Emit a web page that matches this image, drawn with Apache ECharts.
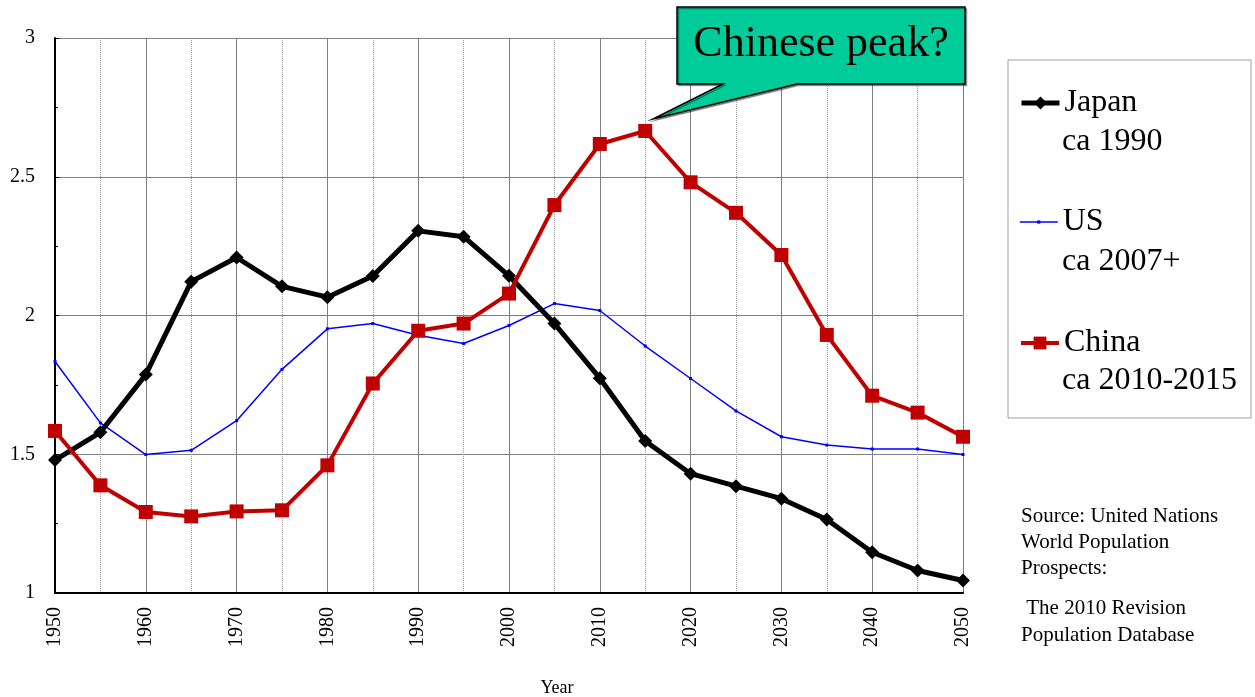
<!DOCTYPE html>
<html>
<head>
<meta charset="utf-8">
<script src="https://cdn.jsdelivr.net/npm/echarts@6/dist/echarts.min.js"></script>
<style>
html,body{margin:0;padding:0;background:#fff;}
#chart{width:1255px;height:697px;}
</style>
</head>
<body>
<div id="chart"></div>
<script>
const years = [1950,1955,1960,1965,1970,1975,1980,1985,1990,1995,2000,2005,2010,2015,2020,2025,2030,2035,2040,2045,2050];
const japan = [1.479,1.579,1.787,2.122,2.209,2.105,2.066,2.142,2.305,2.284,2.143,1.971,1.774,1.548,1.430,1.385,1.340,1.265,1.147,1.081,1.045];
const us    = [1.834,1.613,1.499,1.514,1.621,1.806,1.952,1.971,1.929,1.899,1.964,2.043,2.018,1.890,1.773,1.656,1.563,1.533,1.519,1.519,1.499];
const china = [1.584,1.388,1.292,1.276,1.294,1.298,1.460,1.755,1.945,1.971,2.079,2.398,2.618,2.665,2.480,2.370,2.218,1.930,1.711,1.650,1.563];
const seriesNames = ['Japan','US','China'];
const legendSubtitles = ['ca 1990','ca 2007+','ca 2010-2015'];
const calloutText = 'Chinese peak?';
const sourceLines1 = 'Source: United Nations\nWorld Population\nProspects:';
const sourceLines2 = ' The 2010 Revision\nPopulation Database';

const serif = '"Liberation Serif","DejaVu Serif",serif';
const pair = arr => years.map((y,i)=>[y,arr[i]]);

const chart = echarts.init(document.getElementById('chart'));
const legendBase = {
  orient:'vertical', left:1019, padding:0, itemWidth:38, itemGap:0,
  textStyle:{fontFamily:serif,fontSize:32,color:'#000',lineHeight:38}
};
chart.setOption({
  animation:false,
  backgroundColor:'#fff',
  grid:{left:55,right:292,top:38,bottom:104,show:false,containLabel:false,outerBoundsMode:'none'},
  xAxis:{
    type:'value',min:1950,max:2050,interval:10,
    name:'Year',nameLocation:'middle',nameGap:86,
    nameTextStyle:{fontFamily:serif,fontSize:18,color:'#000',padding:[0,0,0,96]},
    axisLine:{lineStyle:{color:'#000',width:2}},
    axisTick:{show:false},
    axisLabel:{rotate:90,margin:14,fontFamily:serif,fontSize:20,color:'#000',formatter:v=>String(v)},
    splitLine:{show:true,lineStyle:{color:'#808080',width:1}},
    minorTick:{show:false,splitNumber:2},
    minorSplitLine:{show:true,lineStyle:{color:'#9a9a9a',width:1,type:[1,1]}}
  },
  yAxis:{
    type:'value',min:1,max:3,interval:0.5,
    axisLine:{show:true,lineStyle:{color:'#000',width:2}},
    axisTick:{show:true,inside:true,length:4,lineStyle:{color:'#000'}},
    minorTick:{show:true,splitNumber:2,length:3,lineStyle:{color:'#000'}},
    axisLabel:{margin:20,fontFamily:serif,fontSize:20,color:'#000'},
    splitLine:{show:true,lineStyle:{color:'#808080',width:1}}
  },
  legend:[
    Object.assign({},legendBase,{data:[seriesNames[0]],top:84,itemHeight:16,lineStyle:{width:5}}),
    Object.assign({},legendBase,{data:[seriesNames[1]],top:203,itemHeight:4,lineStyle:{width:1.5}}),
    Object.assign({},legendBase,{data:[seriesNames[2]],top:324,itemHeight:16,lineStyle:{width:4}})
  ],
  series:[
    {name:seriesNames[0],type:'line',data:pair(japan),z:4,
     symbol:'diamond',symbolSize:14,
     lineStyle:{color:'#000',width:5},itemStyle:{color:'#000'}},
    {name:seriesNames[1],type:'line',data:pair(us),z:3,
     symbol:'rect',symbolSize:3,
     lineStyle:{color:'#0000ff',width:1.5},itemStyle:{color:'#0000ff'}},
    {name:seriesNames[2],type:'line',data:pair(china),z:5,
     symbol:'rect',symbolSize:14,
     lineStyle:{color:'#c00000',width:4},itemStyle:{color:'#c00000'}}
  ],
  graphic:[
    {type:'rect',z:-1,shape:{x:1008,y:60,width:243,height:358},
     style:{fill:'#fff',stroke:'#a0a0a0',lineWidth:1}},
    {type:'text',x:1062,y:142,style:{text:legendSubtitles[0],fontFamily:serif,fontSize:32,fill:'#000',verticalAlign:'middle'}},
    {type:'text',x:1062,y:262,style:{text:legendSubtitles[1],fontFamily:serif,fontSize:32,fill:'#000',verticalAlign:'middle'}},
    {type:'text',x:1062,y:381,style:{text:legendSubtitles[2],fontFamily:serif,fontSize:32,fill:'#000',verticalAlign:'middle'}},
    {type:'polygon',z:10,
     shape:{points:[[677,7],[965,7],[965,84],[797,84],[653,119],[723,84],[677,84]]},
     style:{fill:'#00cc99',stroke:'#000',lineWidth:1.5,shadowColor:'rgba(0,0,0,0.35)',shadowOffsetX:1.5,shadowOffsetY:1.5}},
    {type:'text',z:11,x:821,y:44,style:{text:calloutText,fontFamily:serif,fontSize:44,fill:'#000',align:'center',verticalAlign:'middle'}},
    {type:'text',x:1021,y:503,style:{text:sourceLines1,fontFamily:serif,fontSize:21,lineHeight:26,fill:'#000'}},
    {type:'text',x:1021,y:595,style:{text:sourceLines2,fontFamily:serif,fontSize:21,lineHeight:27,fill:'#000'}}
  ]
});
</script>
</body>
</html>
